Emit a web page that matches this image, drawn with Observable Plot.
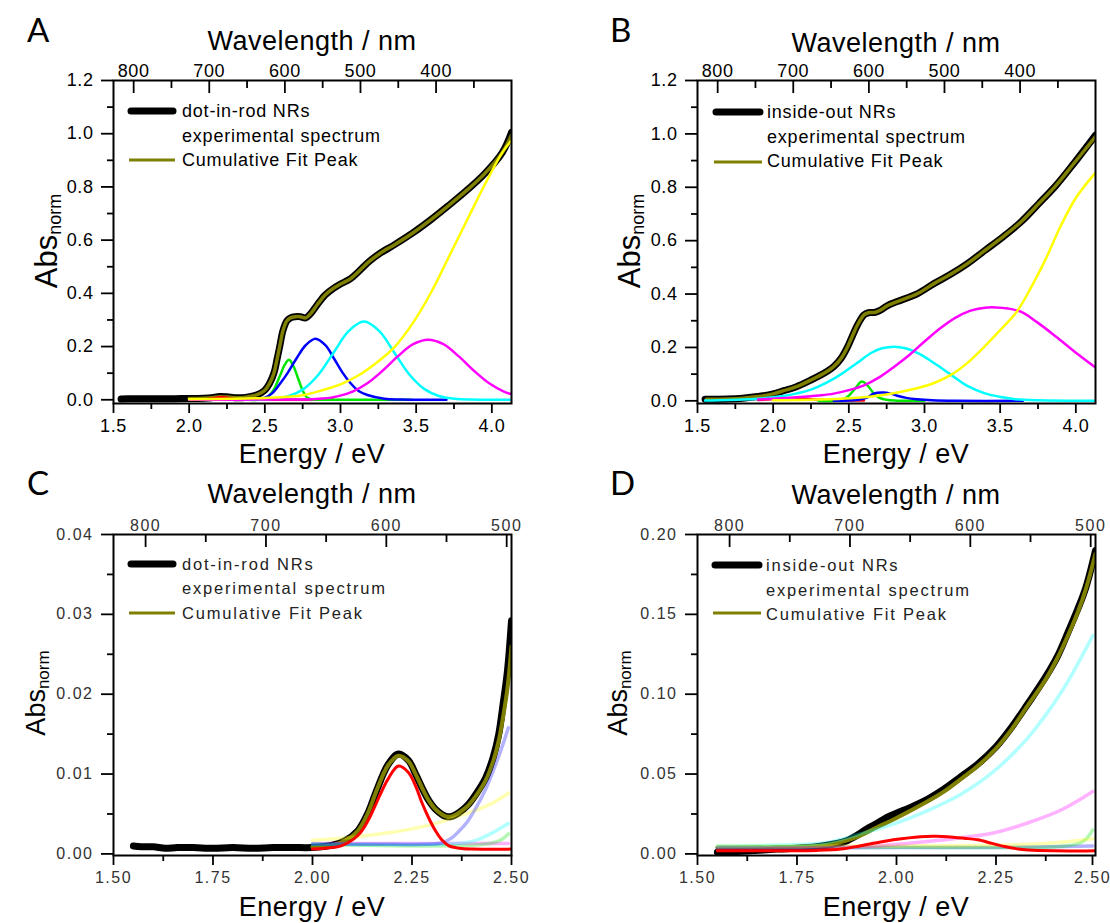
<!DOCTYPE html>
<html>
<head>
<meta charset="utf-8">
<script src="https://cdn.jsdelivr.net/npm/d3@7"></script>
<script src="https://cdn.jsdelivr.net/npm/@observablehq/plot@0.6"></script>
<style>
  html, body { margin: 0; padding: 0; background: white; }
  #root { position: relative; width: 1110px; height: 923px; overflow: hidden; background: white; }
  .panel { position: absolute; }
  #overlay { position: absolute; left: 0; top: 0; pointer-events: none; }
</style>
</head>
<body>
<div id="root">
  <div class="panel" id="pA" style="left:0;top:0"></div>
  <div class="panel" id="pB" style="left:555px;top:0"></div>
  <div class="panel" id="pC" style="left:0;top:461px"></div>
  <div class="panel" id="pD" style="left:555px;top:461px"></div>
</div>
<script>
// ---------------- tick values ----------------
const AB_xTicks = [1.5, 2.0, 2.5, 3.0, 3.5, 4.0];
const AB_xMinor = [1.75, 2.25, 2.75, 3.25, 3.75];
const AB_yTicks = [0, 0.2, 0.4, 0.6, 0.8, 1.0, 1.2];
const AB_yMinor = [0.1, 0.3, 0.5, 0.7, 0.9, 1.1];
const AB_wlTicks = [800, 700, 600, 500, 400];
const AB_wlMinor = [750, 650, 550, 450, 350];
const CD_xTicks = [1.5, 1.75, 2.0, 2.25, 2.5];
const CD_xMinor = [1.625, 1.875, 2.125, 2.375];
const C_yTicks = [0, 0.01, 0.02, 0.03, 0.04];
const C_yMinor = [0.005, 0.015, 0.025, 0.035];
const D_yTicks = [0, 0.05, 0.10, 0.15, 0.20];
const D_yMinor = [0.025, 0.075, 0.125, 0.175];
const CD_wlTicks = [800, 700, 600, 500];
const CD_wlMinor = [750, 650, 550];

// ---------------- Panel A: dot-in-rod NRs ----------------
const A_exp = [[1.55,0.003],[1.6,0.004],[1.7,0.004],[1.8,0.004],[1.9,0.004],[2.0,0.005],[2.1,0.006],[2.15,0.008],[2.2,0.012],[2.25,0.011],[2.3,0.008],[2.35,0.008],[2.4,0.012],[2.45,0.019],[2.5,0.036],[2.53,0.06],[2.56,0.1],[2.58,0.15],[2.6,0.205],[2.62,0.26],[2.645,0.296],[2.67,0.308],[2.7,0.312],[2.735,0.312],[2.77,0.308],[2.8,0.322],[2.846,0.357],[2.9,0.395],[2.956,0.42],[3.0,0.435],[3.067,0.455],[3.12,0.482],[3.19,0.52],[3.26,0.55],[3.36,0.584],[3.48,0.628],[3.6,0.678],[3.71,0.728],[3.83,0.785],[3.95,0.848],[4.07,0.93],[4.13,1.005]];
const A_fit = [[2.0,0.005],[2.1,0.006],[2.15,0.008],[2.2,0.011],[2.25,0.01],[2.3,0.008],[2.35,0.008],[2.4,0.012],[2.45,0.019],[2.5,0.036],[2.53,0.06],[2.56,0.1],[2.58,0.15],[2.6,0.205],[2.62,0.26],[2.645,0.296],[2.67,0.308],[2.7,0.312],[2.735,0.312],[2.77,0.308],[2.8,0.322],[2.846,0.357],[2.9,0.395],[2.956,0.42],[3.0,0.435],[3.067,0.455],[3.12,0.482],[3.19,0.52],[3.26,0.55],[3.36,0.584],[3.48,0.628],[3.6,0.678],[3.71,0.728],[3.83,0.785],[3.95,0.848],[4.07,0.93],[4.13,0.995]];
const A_red = [[2.0,0.001],[2.12,0.003],[2.18,0.008],[2.21,0.01],[2.25,0.008],[2.3,0.003],[2.4,0.001],[2.95,0.001]];
const A_green = [[2.4,0.0],[2.5,0.004],[2.55,0.03],[2.6,0.09],[2.63,0.13],[2.66,0.15],[2.69,0.125],[2.72,0.08],[2.75,0.035],[2.78,0.008],[2.82,0.001],[2.9,0.0],[3.47,0.0]];
const A_blue = [[2.4,0.001],[2.5,0.008],[2.55,0.025],[2.6,0.06],[2.65,0.1],[2.71,0.156],[2.77,0.205],[2.835,0.229],[2.9,0.205],[2.956,0.156],[3.01,0.105],[3.067,0.062],[3.12,0.033],[3.178,0.018],[3.29,0.004],[3.4,0.001],[3.7,0.0]];
const A_cyan = [[2.0,0.0],[2.4,0.001],[2.555,0.004],[2.655,0.013],[2.755,0.04],[2.855,0.095],[2.955,0.178],[3.055,0.259],[3.155,0.294],[3.255,0.259],[3.355,0.178],[3.455,0.095],[3.555,0.04],[3.655,0.013],[3.755,0.004],[3.855,0.001],[4.13,0.0]];
const A_magenta = [[2.0,0.0],[2.58,0.001],[2.78,0.0014],[2.88,0.0045],[2.98,0.0127],[3.08,0.031],[3.18,0.063],[3.28,0.11],[3.38,0.164],[3.48,0.209],[3.58,0.226],[3.68,0.209],[3.78,0.164],[3.88,0.11],[3.98,0.063],[4.08,0.031],[4.13,0.021]];
const A_yellow = [[2.0,0.002],[2.3,0.004],[2.5,0.007],[2.65,0.011],[2.76,0.018],[2.88,0.036],[3.0,0.058],[3.12,0.092],[3.24,0.14],[3.36,0.2],[3.48,0.29],[3.6,0.405],[3.71,0.53],[3.83,0.668],[3.95,0.805],[4.07,0.93],[4.13,0.975]];

// ---------------- Panel B: inside-out NRs ----------------
const B_exp = [[1.55,0.006],[1.7,0.007],[1.8,0.01],[1.9,0.016],[2.0,0.026],[2.07,0.038],[2.15,0.052],[2.25,0.078],[2.35,0.108],[2.4,0.128],[2.45,0.16],[2.49,0.2],[2.525,0.245],[2.558,0.285],[2.6,0.322],[2.63,0.33],[2.67,0.331],[2.71,0.34],[2.756,0.357],[2.82,0.372],[2.955,0.402],[3.065,0.44],[3.17,0.473],[3.286,0.515],[3.403,0.565],[3.52,0.615],[3.637,0.67],[3.754,0.738],[3.871,0.808],[3.988,0.89],[4.13,0.995]];
const B_fit = [[1.56,0.006],[1.7,0.007],[1.8,0.01],[1.9,0.016],[2.0,0.026],[2.07,0.038],[2.15,0.052],[2.25,0.078],[2.35,0.108],[2.4,0.128],[2.45,0.16],[2.49,0.2],[2.525,0.245],[2.558,0.285],[2.6,0.322],[2.63,0.33],[2.67,0.331],[2.71,0.34],[2.756,0.357],[2.82,0.372],[2.955,0.402],[3.065,0.44],[3.17,0.473],[3.286,0.515],[3.403,0.565],[3.52,0.615],[3.637,0.67],[3.754,0.738],[3.871,0.808],[3.988,0.89],[4.13,0.99]];
const B_red = [[1.9,0.003],[2.05,0.008],[2.12,0.011],[2.2,0.008],[2.3,0.004],[2.45,0.002],[2.6,0.001]];
const B_green = [[2.3,0.0],[2.45,0.003],[2.49,0.014],[2.54,0.045],[2.586,0.072],[2.62,0.06],[2.663,0.029],[2.7,0.012],[2.75,0.004],[2.8,0.001],[3.0,0.0]];
const B_blue = [[2.4,0.0],[2.55,0.003],[2.62,0.012],[2.663,0.027],[2.73,0.031],[2.78,0.026],[2.82,0.019],[2.88,0.011],[2.95,0.006],[3.05,0.002],[3.2,0.0],[3.65,0.0]];
const B_cyan = [[1.55,0.001],[1.8,0.005],[1.9,0.008],[2.0,0.013],[2.07,0.018],[2.15,0.027],[2.25,0.042],[2.35,0.067],[2.45,0.1],[2.55,0.14],[2.65,0.18],[2.72,0.197],[2.8,0.203],[2.88,0.196],[2.96,0.178],[3.065,0.141],[3.17,0.1],[3.286,0.055],[3.4,0.028],[3.507,0.014],[3.6,0.006],[3.75,0.002],[4.13,0.0]];
const B_magenta = [[1.9,0.005],[2.0,0.008],[2.1,0.011],[2.2,0.015],[2.3,0.02],[2.4,0.027],[2.5,0.04],[2.6,0.058],[2.7,0.088],[2.8,0.128],[2.9,0.172],[3.0,0.222],[3.1,0.27],[3.2,0.31],[3.3,0.337],[3.4,0.349],[3.47,0.35],[3.55,0.346],[3.64,0.333],[3.75,0.292],[3.87,0.24],[3.99,0.185],[4.13,0.125]];
const B_yellow = [[2.0,0.002],[2.3,0.005],[2.51,0.01],[2.73,0.022],[2.95,0.047],[3.06,0.066],[3.175,0.097],[3.29,0.145],[3.396,0.203],[3.5,0.265],[3.61,0.334],[3.7,0.42],[3.8,0.53],[3.9,0.655],[4.0,0.76],[4.13,0.855]];

// ---------------- Panel C: dot-in-rod NRs (zoom) ----------------
const C_exp = [[1.55,0.0010],[1.57,0.0009],[1.6,0.0009],[1.63,0.0007],[1.66,0.0008],[1.7,0.0008],[1.75,0.0007],[1.8,0.0008],[1.85,0.0007],[1.9,0.0008],[1.95,0.0008],[2.0,0.0008],[2.05,0.0011],[2.08,0.0016],[2.114,0.0029],[2.14,0.0052],[2.16,0.0078],[2.19,0.0112],[2.216,0.0125],[2.241,0.0117],[2.26,0.0099],[2.275,0.0083],[2.292,0.0067],[2.309,0.0056],[2.335,0.0047],[2.35,0.0047],[2.369,0.0052],[2.39,0.0061],[2.411,0.0075],[2.435,0.0095],[2.454,0.0121],[2.468,0.015],[2.479,0.0188],[2.49,0.023],[2.5,0.0292]];
const C_fit = [[2.0,0.0009],[2.05,0.0011],[2.08,0.0016],[2.114,0.0029],[2.14,0.0052],[2.16,0.0078],[2.19,0.0111],[2.216,0.0123],[2.241,0.0116],[2.26,0.0099],[2.275,0.0083],[2.292,0.0067],[2.309,0.0056],[2.335,0.0047],[2.35,0.0047],[2.369,0.0052],[2.39,0.006],[2.411,0.0073],[2.435,0.0092],[2.454,0.0116],[2.468,0.0142],[2.479,0.0172],[2.49,0.0208],[2.5,0.026]];
const C_red = [[2.0,0.0006],[2.05,0.0008],[2.072,0.001],[2.114,0.0023],[2.14,0.0042],[2.157,0.006],[2.19,0.0094],[2.216,0.011],[2.241,0.0102],[2.26,0.0084],[2.275,0.0064],[2.292,0.0045],[2.309,0.0029],[2.326,0.0017],[2.343,0.001],[2.369,0.0007],[2.4,0.0006],[2.5,0.0006]];
const C_blue = [[2.0,0.0012],[2.2,0.0012],[2.28,0.0012],[2.326,0.0014],[2.35,0.002],[2.369,0.0029],[2.39,0.0041],[2.411,0.0058],[2.435,0.0081],[2.454,0.0104],[2.475,0.0132],[2.492,0.0158]];
const C_yellow = [[2.0,0.0017],[2.1,0.0021],[2.2,0.0027],[2.3,0.0037],[2.4,0.0053],[2.45,0.0063],[2.492,0.0076]];
const C_cyan = [[2.0,0.0012],[2.3,0.0012],[2.36,0.0013],[2.411,0.0017],[2.454,0.0027],[2.492,0.0038]];
const C_green = [[2.0,0.0012],[2.43,0.0012],[2.471,0.0017],[2.492,0.0025]];
const C_magenta = [[2.0,0.0013],[2.492,0.0013]];

// ---------------- Panel D: inside-out NRs (zoom) ----------------
const D_exp = [[1.55,0.001],[1.6,0.0015],[1.7,0.003],[1.8,0.0045],[1.85,0.0065],[1.873,0.008],[1.9,0.0115],[1.924,0.0155],[1.95,0.019],[1.975,0.0228],[2.0,0.0255],[2.034,0.029],[2.08,0.0345],[2.119,0.0405],[2.16,0.048],[2.204,0.0562],[2.25,0.067],[2.289,0.0792],[2.33,0.094],[2.374,0.1105],[2.405,0.124],[2.433,0.14],[2.455,0.153],[2.476,0.167],[2.5,0.19]];
const D_fit = [[1.55,0.004],[1.7,0.0042],[1.8,0.005],[1.85,0.0068],[1.9,0.0105],[1.95,0.0165],[2.0,0.0225],[2.05,0.029],[2.119,0.039],[2.16,0.0465],[2.204,0.055],[2.25,0.066],[2.289,0.078],[2.33,0.093],[2.374,0.109],[2.405,0.123],[2.433,0.138],[2.455,0.151],[2.476,0.166],[2.5,0.188]];
const D_red = [[1.55,0.002],[1.8,0.0022],[1.86,0.003],[1.907,0.005],[1.95,0.007],[1.992,0.0088],[2.06,0.0108],[2.1,0.011],[2.128,0.0108],[2.17,0.0098],[2.204,0.0088],[2.24,0.0066],[2.272,0.0046],[2.3,0.0033],[2.331,0.0025],[2.4,0.002],[2.5,0.0019]];
const D_cyan = [[1.55,0.005],[1.7,0.0055],[1.822,0.007],[1.907,0.0123],[1.992,0.0186],[2.077,0.027],[2.162,0.0374],[2.246,0.052],[2.331,0.073],[2.416,0.102],[2.493,0.1367]];
const D_magenta = [[1.55,0.004],[1.8,0.004],[1.95,0.005],[2.0,0.006],[2.077,0.0077],[2.162,0.0101],[2.246,0.0132],[2.331,0.0195],[2.416,0.0278],[2.493,0.0391]];
const D_yellow = [[1.55,0.005],[2.0,0.005],[2.3,0.0058],[2.4,0.007],[2.493,0.0095]];
const D_green = [[1.55,0.004],[2.0,0.0042],[2.4,0.0045],[2.45,0.006],[2.475,0.009],[2.493,0.015]];
const D_blue = [[1.55,0.003],[2.0,0.004],[2.25,0.004],[2.493,0.005]];

// ---------------- colours ----------------
const BLACK = "#000000", OLIVE = "#808000";
const RED = "#ff0000", GREEN = "#00e600", BLUE = "#0000ff", CYAN = "#00ffff", MAGENTA = "#ff00ff", YELLOW = "#ffff00";

const FONT = "'Liberation Sans', Arial, sans-serif";

function makePanel(p) {
  const [x0, x1] = p.xDomain;
  const lamMax = 1240 / x0, lamMin = 1240 / x1;
  const wlToE = l => x0 + (lamMax - l) / (lamMax - lamMin) * (x1 - x0);
  const eToWl = e => lamMax - (e - x0) / (x1 - x0) * (lamMax - lamMin);
  const lines = p.series.map(s => Plot.line(s.data, {
    x: d => d[0], y: d => d[1], stroke: s.color, strokeWidth: s.width,
    strokeOpacity: s.opacity == null ? 1 : s.opacity,
    curve: "catmull-rom", strokeLinejoin: "round", strokeLinecap: "round", clip: true
  }));
  const tw = 1.8;
  const mainTicks = p.lastDx ? p.xTicks.slice(0, -1) : p.xTicks;
  const lastTick = p.lastDx ? p.xTicks.slice(-1) : [];
  const wlMajorE = p.wlTicks.map(wlToE);
  const wlMinorE = p.wlMinor.map(wlToE);
  return Plot.plot({
    width: p.width, height: p.height,
    marginLeft: p.ml, marginRight: p.mr, marginTop: p.mt, marginBottom: p.mb,
    x: {domain: p.xDomain, label: null},
    y: {domain: p.yDomain, label: null},
    style: {fontFamily: FONT, fontSize: p.fs + "px", color: p.textColor, background: "white", letterSpacing: p.ls + "px", overflow: "visible"},
    marks: [
      ...lines,
      Plot.frame({stroke: "black", strokeWidth: 2}),
      // bottom energy axis (outward ticks)
      Plot.axisX(mainTicks, {anchor: "bottom", tickSize: 10, tickPadding: 6, tickFormat: p.xFmt, label: null, strokeWidth: tw, stroke: "black", fontSize: p.fs}),
      Plot.axisX(lastTick, {anchor: "bottom", tickSize: 10, tickPadding: 6, tickFormat: p.xFmt, label: null, strokeWidth: tw, stroke: "black", fontSize: p.fs, dx: p.lastDx || 0, letterSpacing: 0.5}),
      Plot.axisX(p.xMinor, {anchor: "bottom", tickSize: 6, tickFormat: () => "", label: null, strokeWidth: tw, stroke: "black"}),
      // left axis (outward ticks)
      Plot.axisY(p.yTicks, {anchor: "left", tickSize: 12, tickPadding: 8, tickFormat: p.yFmt, label: null, strokeWidth: tw, stroke: "black", fontSize: p.fs}),
      Plot.axisY(p.yMinor, {anchor: "left", tickSize: 6, tickFormat: () => "", label: null, strokeWidth: tw, stroke: "black"}),
      // top wavelength axis: inward ticks (shifted down by their own length) + labels
      Plot.axisX(wlMajorE, {anchor: "top", tickSize: 12, dy: 12, tickFormat: () => "", label: null, strokeWidth: tw, stroke: "black"}),
      Plot.axisX(wlMinorE, {anchor: "top", tickSize: 7, dy: 7, tickFormat: () => "", label: null, strokeWidth: tw, stroke: "black"}),
      Plot.axisX(wlMajorE, {anchor: "top", tickSize: 0, tickPadding: 4, tickFormat: e => String(Math.round(eToWl(e))), label: null, fontSize: p.fs})
    ]
  });
}

const f1 = d3.format(".1f"), f2 = d3.format(".2f");

const panels = [
  {id: "pA", width: 555, height: 461, ml: 113, mr: 44, mt: 80, mb: 58,
   xDomain: [1.5, 4.13], yDomain: [-0.014, 1.2], xTicks: AB_xTicks, xMinor: AB_xMinor,
   yTicks: AB_yTicks, yMinor: AB_yMinor, wlTicks: AB_wlTicks, wlMinor: AB_wlMinor,
   xFmt: f1, yFmt: f1, fs: 18, ls: 0.6, textColor: "#000",
   series: [
     {data: A_exp, color: BLACK, width: 7},
     {data: A_fit, color: OLIVE, width: 3.5},
     {data: A_red, color: RED, width: 2.5},
     {data: A_green, color: GREEN, width: 2.5},
     {data: A_blue, color: BLUE, width: 2.5},
     {data: A_cyan, color: CYAN, width: 2.5},
     {data: A_magenta, color: MAGENTA, width: 2.5},
     {data: A_yellow, color: YELLOW, width: 2.5}
   ]},
  {id: "pB", width: 555, height: 461, ml: 142, mr: 15, mt: 80, mb: 58,
   xDomain: [1.5, 4.13], yDomain: [-0.01, 1.2], xTicks: AB_xTicks, xMinor: AB_xMinor,
   yTicks: AB_yTicks, yMinor: AB_yMinor, wlTicks: AB_wlTicks, wlMinor: AB_wlMinor,
   xFmt: f1, yFmt: f1, fs: 18, ls: 0.6, textColor: "#000",
   series: [
     {data: B_exp, color: BLACK, width: 7},
     {data: B_fit, color: OLIVE, width: 3.5},
     {data: B_red, color: RED, width: 2.5},
     {data: B_green, color: GREEN, width: 2.5},
     {data: B_blue, color: BLUE, width: 2.5},
     {data: B_cyan, color: CYAN, width: 2.5},
     {data: B_magenta, color: MAGENTA, width: 2.5},
     {data: B_yellow, color: YELLOW, width: 2.5}
   ]},
  {id: "pC", width: 555, height: 462, ml: 113, mr: 44, mt: 73, mb: 68,
   xDomain: [1.5, 2.5], yDomain: [-0.0002, 0.04], xTicks: CD_xTicks, xMinor: CD_xMinor,
   yTicks: C_yTicks, yMinor: C_yMinor, wlTicks: CD_wlTicks, wlMinor: CD_wlMinor,
   xFmt: f2, yFmt: f2, fs: 16, ls: 1.5, textColor: "#333",
   series: [
     {data: C_exp, color: BLACK, width: 7},
     {data: C_fit, color: OLIVE, width: 4},
     {data: C_magenta, color: MAGENTA, width: 3.5, opacity: 0.3},
     {data: C_green, color: GREEN, width: 3.5, opacity: 0.3},
     {data: C_cyan, color: CYAN, width: 3.5, opacity: 0.3},
     {data: C_yellow, color: YELLOW, width: 3.5, opacity: 0.3},
     {data: C_blue, color: BLUE, width: 3.5, opacity: 0.3},
     {data: C_red, color: RED, width: 3}
   ]},
  {id: "pD", width: 555, height: 462, ml: 142, mr: 15, mt: 73, mb: 68, lastDx: -3,
   xDomain: [1.5, 2.5], yDomain: [-0.001, 0.2], xTicks: CD_xTicks, xMinor: CD_xMinor,
   yTicks: D_yTicks, yMinor: D_yMinor, wlTicks: CD_wlTicks, wlMinor: CD_wlMinor,
   xFmt: f2, yFmt: f2, fs: 16, ls: 1.5, textColor: "#333",
   series: [
     {data: D_exp, color: BLACK, width: 7},
     {data: D_fit, color: OLIVE, width: 4},
     {data: D_blue, color: BLUE, width: 3.5, opacity: 0.3},
     {data: D_green, color: GREEN, width: 3.5, opacity: 0.3},
     {data: D_yellow, color: YELLOW, width: 3.5, opacity: 0.3},
     {data: D_magenta, color: MAGENTA, width: 3.5, opacity: 0.3},
     {data: D_cyan, color: CYAN, width: 3.5, opacity: 0.3},
     {data: D_red, color: RED, width: 3}
   ]}
];

for (const p of panels) {
  document.getElementById(p.id).appendChild(makePanel(p));
}

// ---------------- overlay: panel letters, axis titles, legends ----------------
const titles = [
  {letter: "A", lx: 27, ly: 42, cx: 312, wlY: 50, enY: 463, absX: 57, absY: 241, absFs: 31, subFs: 18, leg: {x0: 128, x1: 176, tx: 182, r: [111, 136, 160], b: [117, 142, 166], fs: 18, ls: 0.8, fill: "#000"}, name: "dot-in-rod NRs"},
  {letter: "B", lx: 610, ly: 42, cx: 896, wlY: 52, enY: 463, absX: 640, absY: 241, absFs: 31, subFs: 18, leg: {x0: 713, x1: 763, tx: 767, r: [112, 137, 162], b: [118, 143, 167], fs: 18, ls: 0.8, fill: "#000"}, name: "inside-out NRs"},
  {letter: "C", lx: 27, ly: 495, cx: 312, wlY: 503, enY: 916, absX: 45, absY: 693, absFs: 27, subFs: 17, leg: {x0: 128, x1: 176, tx: 182, r: [564, 589, 613], b: [570, 594, 619], fs: 16.5, ls: 1.8, fill: "#222"}, name: "dot-in-rod NRs"},
  {letter: "D", lx: 610, ly: 495, cx: 896, wlY: 504, enY: 916, absX: 627, absY: 693, absFs: 27, subFs: 17, leg: {x0: 712, x1: 762, tx: 766, r: [565, 590, 613], b: [571, 596, 620], fs: 16.5, ls: 1.8, fill: "#222"}, name: "inside-out NRs"}
];

let svg = `<svg id="overlay" width="1110" height="923" xmlns="http://www.w3.org/2000/svg" style="font-family:${FONT}">`;
for (const t of titles) {
  svg += `<text x="${t.lx}" y="${t.ly}" font-family="Lato, 'Open Sans', sans-serif" font-size="33" fill="#000">${t.letter}</text>`;
  svg += `<text x="${t.cx}" y="${t.wlY}" text-anchor="middle" font-size="27" fill="#000" letter-spacing="0.5">Wavelength / nm</text>`;
  svg += `<text x="${t.cx}" y="${t.enY}" text-anchor="middle" font-size="27" fill="#000" letter-spacing="0.5">Energy / eV</text>`;
  svg += `<text transform="translate(${t.absX},${t.absY}) rotate(-90)" text-anchor="middle" font-size="${t.absFs}" fill="#000">Abs<tspan font-size="${t.subFs}" dy="4">norm</tspan></text>`;
  const L = t.leg;
  svg += `<line x1="${L.x0 + 3}" x2="${L.x1 - 3}" y1="${L.r[0]}" y2="${L.r[0]}" stroke="#000" stroke-width="7" stroke-linecap="round"/>`;
  svg += `<line x1="${L.x0 + 1}" x2="${L.x1 - 1}" y1="${L.r[2]}" y2="${L.r[2]}" stroke="${OLIVE}" stroke-width="3"/>`;
  svg += `<text x="${L.tx}" y="${L.b[0]}" font-size="${L.fs}" letter-spacing="${L.ls}" fill="${L.fill}">${t.name}</text>`;
  svg += `<text x="${L.tx}" y="${L.b[1]}" font-size="${L.fs}" letter-spacing="${L.ls}" fill="${L.fill}">experimental spectrum</text>`;
  svg += `<text x="${L.tx}" y="${L.b[2]}" font-size="${L.fs}" letter-spacing="${L.ls}" fill="${L.fill}">Cumulative Fit Peak</text>`;
}
svg += `</svg>`;
document.getElementById("root").insertAdjacentHTML("beforeend", svg);
</script>
</body>
</html>
